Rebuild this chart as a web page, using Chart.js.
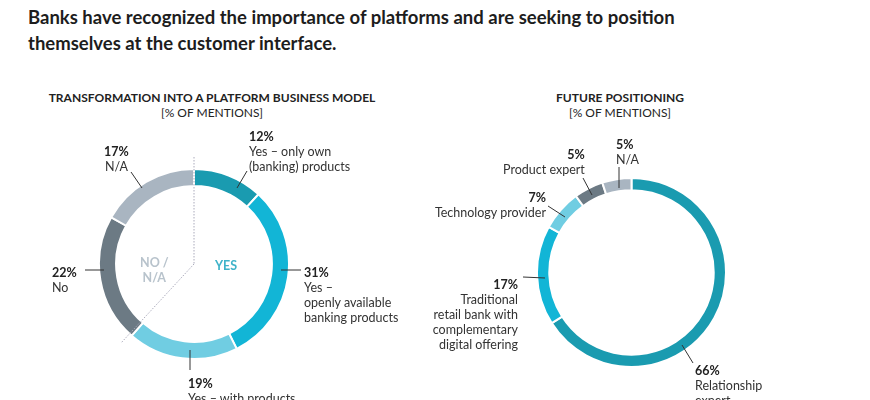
<!DOCTYPE html>
<html><head><meta charset="utf-8">
<script src="https://cdn.jsdelivr.net/npm/chart.js@4"></script>
<style>
body{margin:0;width:870px;height:400px;background:#fff;font-family:Lato,"Open Sans",sans-serif;color:#222;position:relative;overflow:hidden}
.t{position:absolute;font-size:12.5px;line-height:15px;color:#333;white-space:nowrap}
.t b{color:#222}
h1{position:absolute;left:28px;top:4px;margin:0;font-size:18.5px;line-height:26px;font-weight:700;color:#1d1d1d}
.sub{position:absolute;font-size:12px;line-height:15px;text-align:center;color:#222}
canvas{position:absolute}
svg{position:absolute;left:0;top:0}
</style></head><body>
<h1>Banks have recognized the importance of platforms and are seeking to position<br>themselves at the customer interface.</h1>
<div class="sub" style="left:30px;width:364px;top:90px"><b>TRANSFORMATION INTO A PLATFORM BUSINESS MODEL</b><br>[% OF MENTIONS]</div>
<div class="sub" style="left:520px;width:200px;top:90px"><b>FUTURE POSITIONING</b><br>[% OF MENTIONS]</div>
<canvas id="c1" width="192" height="192" style="left:98px;top:168px"></canvas>
<canvas id="c2" width="191" height="191" style="left:536px;top:177px"></canvas>
<svg width="870" height="400"><g stroke="#333" stroke-width="1">
<line x1="237" y1="188" x2="247" y2="171"/><line x1="142" y1="188" x2="131" y2="172"/>
<line x1="85" y1="270" x2="104" y2="270"/><line x1="281" y1="270" x2="301" y2="270"/>
<line x1="190" y1="350" x2="190" y2="370"/>
<line x1="619" y1="188" x2="619" y2="167"/><line x1="592" y1="195" x2="583" y2="178"/>
<line x1="565" y1="217" x2="548" y2="206"/><line x1="545" y1="278" x2="523" y2="277"/>
<line x1="682" y1="345" x2="693" y2="363"/></g>
<g stroke="#aab" stroke-width="1" stroke-dasharray="1.5,1.5"><line x1="194" y1="157" x2="194" y2="264"/><line x1="194" y1="264" x2="121" y2="343"/></g>
</svg>
<div class="t" style="left:140px;top:255px;font-weight:700;color:#b8c3cc;text-align:center;font-size:12.5px">NO /<br>N/A</div>
<div class="t" style="left:215px;top:258px;font-weight:700;color:#3fb3c9;font-size:12.5px">YES</div>
<div class="t" style="left:249px;top:129px"><b>12%</b><br>Yes – only own<br>(banking) products</div>
<div class="t" style="left:104px;top:144px;text-align:center"><b>17%</b><br>N/A</div>
<div class="t" style="left:52px;top:265px"><b>22%</b><br>No</div>
<div class="t" style="left:304px;top:265px"><b>31%</b><br>Yes –<br>openly available<br>banking products</div>
<div class="t" style="left:188px;top:376px"><b>19%</b><br>Yes – with products</div>
<div class="t" style="left:616px;top:137px"><b>5%</b><br>N/A</div>
<div class="t" style="left:503px;top:147px;text-align:right"><b>5%</b><br>Product expert</div>
<div class="t" style="left:430px;top:190px;text-align:right;width:116px"><b>7%</b><br>Technology provider</div>
<div class="t" style="left:416px;top:277px;text-align:right;width:102px"><b>17%</b><br>Traditional<br>retail bank with<br>complementary<br>digital offering</div>
<div class="t" style="left:695px;top:363px"><b>66%</b><br>Relationship<br>expert</div>
<script>
const leftLabels=["Yes – only own (banking) products","Yes – openly available banking products","Yes – with products","No","N/A"];
const leftValues=[12,31,19,22,17];
const leftColors=["#1a9bb0","#12b5d6","#70cde2","#6c7a84","#a9b5c1"];
const rightLabels=["Relationship expert","Traditional retail bank with complementary digital offering","Technology provider","Product expert","N/A"];
const rightValues=[66,17,7,5,5];
const rightColors=["#1a9bb0","#12b5d6","#70cde2","#6c7a84","#a9b5c1"];
function mk(id,labels,values,colors,cut){
 new Chart(document.getElementById(id),{type:'doughnut',
 data:{labels,datasets:[{data:values,backgroundColor:colors,borderColor:'#fff',borderWidth:2}]},
 options:{responsive:false,animation:false,cutout:cut,layout:{padding:0},
 plugins:{legend:{display:false},tooltip:{enabled:false}}}});
}
mk('c1',leftLabels,leftValues,leftColors,'82%');
mk('c2',rightLabels,rightValues,rightColors,'87%');
</script>
</body></html>
